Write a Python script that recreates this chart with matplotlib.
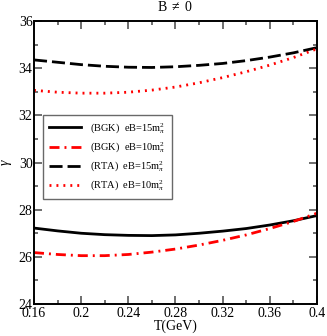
import matplotlib
matplotlib.use("Agg")
import matplotlib.pyplot as plt
from matplotlib.ticker import MultipleLocator, FuncFormatter

plt.rcParams['font.family'] = ['Liberation Serif', 'DejaVu Serif']
plt.rcParams['mathtext.fontset'] = 'custom'
plt.rcParams['mathtext.rm'] = 'Liberation Serif'
plt.rcParams['mathtext.it'] = 'Liberation Serif:italic'

T = [0.16, 0.18, 0.20, 0.22, 0.24, 0.26, 0.28, 0.30, 0.32, 0.34, 0.36, 0.38, 0.40]
bgk_15 = [27.22, 27.10, 27.00, 26.94, 26.91, 26.90, 26.93, 27.00, 27.09, 27.20, 27.35, 27.53, 27.75]
bgk_10 = [26.18, 26.10, 26.05, 26.05, 26.10, 26.20, 26.33, 26.50, 26.70, 26.93, 27.20, 27.50, 27.85]
rta_15 = [34.35, 34.25, 34.15, 34.08, 34.04, 34.03, 34.06, 34.12, 34.20, 34.32, 34.47, 34.65, 34.87]
rta_10 = [33.06, 32.98, 32.94, 32.94, 32.98, 33.07, 33.20, 33.38, 33.60, 33.85, 34.13, 34.45, 34.82]

fig = plt.figure(figsize=(3.27, 3.36), dpi=100)
ax = fig.add_axes([34/327, 1 - 304/336, 283/327, 283/336])

ax.plot(T, bgk_15, color='black', lw=2, label=r'(BGK)  eB=15m$_\pi^2$')
ax.plot(T, bgk_10, color='red', lw=2, dashes=(3.6, 1.8, 0.7, 1.8), label=r'(BGK)  eB=10m$_\pi^2$')
ax.plot(T, rta_15, color='black', lw=2, dashes=(4.7, 1.8), label=r'(RTA)  eB=15m$_\pi^2$')
ax.plot(T, rta_10, color='red', lw=2, dashes=(0.7, 1.8), label=r'(RTA)  eB=10m$_\pi^2$')

ax.set_xlim(0.16, 0.4)
ax.set_ylim(24, 36)
ax.xaxis.set_major_locator(MultipleLocator(0.04))
ax.xaxis.set_minor_locator(MultipleLocator(0.02))
ax.yaxis.set_major_locator(MultipleLocator(2))
ax.yaxis.set_minor_locator(MultipleLocator(1))
ax.xaxis.set_major_formatter(FuncFormatter(lambda v, p: ('%.2f' % v).rstrip('0')))
ax.tick_params(which='both', direction='in', top=True, right=True, labelsize=10)
ax.tick_params(axis='x', pad=2)
ax.tick_params(axis='y', pad=1)
ax.tick_params(which='major', length=6, width=1.2, color='#555555')
ax.tick_params(which='minor', length=3, width=1.2, color='#555555')
for s in ax.spines.values():
    s.set_linewidth(1.4)

ax.set_xlabel('T(GeV)', fontsize=10, labelpad=0)
ax.set_ylabel(r'$\gamma$', fontsize=10, labelpad=3)
ax.set_title(r'B $\neq$ 0', fontsize=10, pad=7)

leg = ax.legend(loc='upper left', bbox_to_anchor=(0.032, 0.668), borderaxespad=0, fontsize=7.5,
                frameon=True, fancybox=False, edgecolor='#444444', handlelength=3.0,
                borderpad=0.6, labelspacing=0.45, handletextpad=0.9)
leg.get_frame().set_linewidth(1.0)

fig.savefig('out.png', dpi=100)
